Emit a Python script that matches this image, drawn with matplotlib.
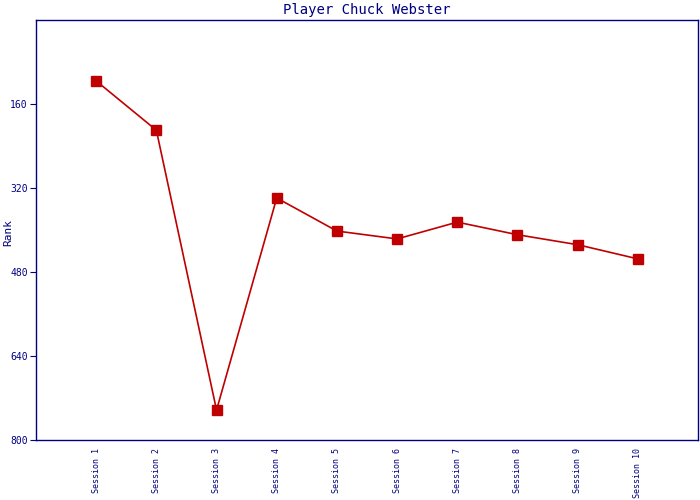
import matplotlib
matplotlib.use("Agg")
import matplotlib.pyplot as plt

sessions = ["Session 1", "Session 2", "Session 3", "Session 4", "Session 5",
            "Session 6", "Session 7", "Session 8", "Session 9", "Session 10"]
ranks = [116, 210, 743, 339, 402, 417, 385, 409, 428, 455]
yticks = [160, 320, 480, 640, 800]

navy = "#000080"
red = "#C00000"
plt.rcParams['font.family'] = ['DejaVu Sans Mono']

fig = plt.figure(figsize=(7, 5), dpi=100)
ax = fig.add_axes([36/700, 60/500, 662/700, 420/500])
x = list(range(1, len(sessions) + 1))
ax.plot(x, ranks, color=red, linewidth=1.2, marker='s', markersize=7,
        markerfacecolor=red, markeredgecolor=red)
ax.set_xlim(0, 11)
ax.set_ylim(800, 0)
ax.set_yticks(yticks)
ax.set_yticklabels([str(v) for v in yticks], fontsize=7, color=navy)
ax.set_xticks(x)
ax.set_xticklabels(sessions, rotation=90, fontsize=6, color=navy, va='top')
ax.tick_params(axis='x', length=0, pad=6)
ax.tick_params(axis='y', length=4, color=navy, pad=2)
for s in ax.spines.values():
    s.set_color(navy)
    s.set_linewidth(1)
fig.text(8/700, 1 - 232/500, "Rank", fontsize=8, color=navy, rotation=90,
         ha='center', va='center')
ax.set_title("Player Chuck Webster", fontsize=10, color=navy, pad=4)
fig.savefig("out.png", dpi=100)
